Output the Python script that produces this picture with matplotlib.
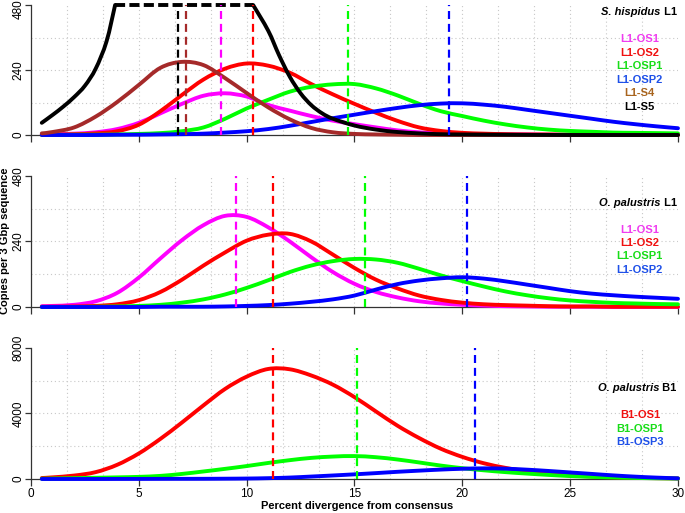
import matplotlib
matplotlib.use("Agg")
import matplotlib.pyplot as plt
import matplotlib.transforms as mtransforms
from matplotlib.path import Path
from matplotlib.patches import PathPatch
import numpy as np

plt.rcParams['font.family'] = ['Liberation Sans', 'DejaVu Sans']

# percent divergence sampled along x
x_pct = [0.5, 1, 2, 3, 4, 5, 6, 7, 8, 9, 10, 11, 12, 13, 14, 15,
         16, 17, 18, 19, 20, 21, 22, 23, 24, 25, 26, 27, 28, 29, 30]

# -- S. hispidus L1 --
sh_os1 = [2, 3, 5, 10, 22, 45, 80, 115, 145, 154, 142, 111, 90, 70, 53, 40,
          28, 17, 10, 6, 4, 3, 2, 2, 1, 1, 1, 1, 1, 1, 1]
sh_os2 = [1, 1, 3, 6, 14, 38, 88, 148, 205, 245, 264, 256, 230, 188, 150, 115,
          82, 52, 28, 15, 8, 5, 3, 2, 2, 1, 1, 1, 1, 1, 1]
sh_osp1 = [0, 0, 1, 1, 2, 4, 7, 14, 28, 60, 98, 130, 160, 178, 187, 188,
           172, 146, 115, 88, 70, 53, 39, 28, 20, 15, 12, 9, 8, 7, 6]
sh_osp2 = [0, 0, 0, 0, 1, 1, 2, 3, 5, 9, 14, 22, 34, 48, 62, 75,
           88, 100, 110, 116, 117, 112, 104, 93, 82, 71, 60, 49, 40, 32, 25]
sh_s4 = [6, 11, 28, 68, 122, 185, 248, 270, 258, 210, 155, 102, 58, 26, 10, 4,
         2, 1, 0, 0, 0, 0, 0, 0, 0, 0, 0, 0, 0, 0, 0]
# L1-S5 runs off the top of the panel between 3.9 and 10.3
s5_x = [0.5, 1, 1.5, 2, 2.5, 3, 3.5, 3.9, 10.3, 11, 11.5, 12, 12.5, 13, 13.5,
        14, 15, 16, 17, 18, 19, 20, 22, 25, 30]
s5_y = [45, 74, 105, 140, 182, 245, 345, 480, 480, 385, 295, 215, 154, 110, 80,
        60, 35, 20, 11, 6, 3, 2, 1, 0, 0]
sh_modes = [8.8, 10.3, 14.7, 19.4, 7.2, 6.8]

# -- O. palustris L1 --
op_os1 = [3, 4, 8, 21, 52, 108, 178, 245, 300, 334, 330, 292, 240, 182, 128, 85,
          55, 35, 21, 13, 8, 5, 3, 2, 1, 1, 1, 0, 0, 0, 0]
op_os2 = [1, 1, 2, 4, 10, 25, 55, 100, 152, 200, 243, 265, 268, 240, 192, 143,
          100, 68, 42, 26, 16, 10, 7, 5, 3, 2, 2, 1, 1, 1, 1]
op_osp1 = [0, 0, 0, 1, 2, 4, 8, 16, 28, 46, 70, 98, 128, 152, 168, 176,
           174, 162, 140, 116, 95, 75, 57, 43, 32, 24, 19, 15, 13, 11, 10]
op_osp2 = [0, 0, 0, 0, 0, 0, 1, 1, 1, 2, 4, 7, 12, 19, 28, 42,
           64, 84, 97, 105, 109, 104, 94, 82, 70, 58, 49, 43, 38, 34, 30]
op_modes = [9.5, 11.2, 15.5, 20.2]

# -- O. palustris B1 --
b1_os1 = [60, 100, 210, 420, 870, 1560, 2450, 3450, 4500, 5500, 6250, 6720, 6700, 6320,
          5760, 5000, 4120, 3250, 2500, 1850, 1350, 960, 680, 470, 320, 220, 150, 100, 70, 50, 35]
b1_osp1 = [20, 30, 50, 75, 100, 130, 190, 310, 460, 620, 790, 980, 1150, 1290, 1370, 1400,
           1330, 1190, 1010, 820, 660, 530, 420, 330, 250, 180, 130, 95, 65, 45, 30]
b1_osp3 = [0, 0, 0, 0, 3, 5, 8, 10, 12, 18, 28, 50, 88, 150, 215, 285,
           360, 440, 510, 575, 625, 650, 630, 570, 490, 400, 310, 220, 145, 85, 40]
b1_modes = [11.2, 15.1, 20.6]

MAG, RED, GRN, BLU, BRN, BLK = '#FF00FF', '#FF0000', '#00FF00', '#0000FF', '#A52A2A', '#000000'
txt_col = {MAG: '#F03CF0', RED: '#F01010', GRN: '#18DD18', BLU: '#1E50E8', BRN: '#A8641E', BLK: '#000000'}

LW = 2.8
fig = plt.figure(figsize=(6.85, 5.13), dpi=100)
ax1 = fig.add_axes([0.04526, 0.73684, 0.9445, 0.25341])
ax2 = fig.add_axes([0.04526, 0.40156, 0.9445, 0.25536])
ax3 = fig.add_axes([0.04526, 0.06628, 0.9445, 0.25536])


def setup(ax, ymax, yticks, show_x):
    ax.set_xlim(0, 30)
    ax.set_ylim(0, ymax)
    for g in np.arange(5 / 3, 29.9, 5 / 3):
        ax.axvline(g, color='#c8c8c8', ls=(0, (1, 2.5)), lw=0.8, zorder=0)
    for g in np.linspace(0, ymax, 5)[1:-1]:
        ax.axhline(g, color='#c8c8c8', ls=(0, (1, 2.5)), lw=0.8, zorder=0)
    for s in ['top', 'right']:
        ax.spines[s].set_visible(False)
    for s in ['left', 'bottom']:
        ax.spines[s].set_color('#333333')
        ax.spines[s].set_linewidth(0.9)
    ax.set_xticks(range(0, 31, 5))
    ax.set_yticks(yticks)
    ax.tick_params(direction='out', length=5, width=0.9, color='#333333', labelsize=8.5, pad=1.5)
    ax.tick_params(axis='y', length=4.5, pad=0.3)
    plt.setp(ax.get_yticklabels(), rotation=90, va='center')
    if not show_x:
        ax.set_xticklabels([])


def smooth(xs, ys):
    # Catmull-Rom through the read points, drawn as cubic bezier path
    p = np.column_stack([xs, ys]).astype(float)
    verts, codes = [p[0]], [Path.MOVETO]
    for i in range(len(p) - 1):
        p0 = p[i - 1] if i > 0 else p[i]
        p3 = p[i + 2] if i + 2 < len(p) else p[i + 1]
        verts += [p[i] + (p[i + 1] - p0) / 6, p[i + 1] - (p3 - p[i]) / 6, p[i + 1]]
        codes += [Path.CURVE4] * 3
    return Path(verts, codes)


def curve(ax, xs, ys, c):
    ax.add_patch(PathPatch(smooth(xs, ys), fill=False, edgecolor=c, lw=LW,
                           capstyle='round', joinstyle='round', clip_on=False, zorder=3))


def modes(ax, xs, cols):
    for m, c in zip(xs, cols):
        ax.axvline(m, color=c, lw=1.6, ls=(0, (3.6, 2.2)), zorder=4)


def titles(ax, species, tag, ty, names, cols, ys):
    t = ax.text(0.998, ty, ' ' + tag, transform=ax.transAxes, ha='right', va='center',
                fontsize=8, fontweight='bold')
    ax.annotate(species, xy=(0, 0.5), xycoords=t, ha='right', va='center',
                fontsize=8, fontweight='bold', fontstyle='italic')
    for n, c, y in zip(names, cols, ys):
        ax.text(0.941, y, n, color=txt_col[c], transform=ax.transAxes, ha='center', va='center',
                fontsize=8, fontweight='bold')


# top panel
setup(ax1, 480, [0, 240, 480], False)
for ys, c in [(sh_os1, MAG), (sh_os2, RED), (sh_osp1, GRN), (sh_osp2, BLU), (sh_s4, BRN)]:
    curve(ax1, x_pct, ys, c)
s5x, s5y = np.array(s5_x), np.array(s5_y)
cap = np.where(s5y >= 480)[0]
i0, i1 = cap[0], cap[-1]
curve(ax1, s5x[:i0 + 1], s5y[:i0 + 1], BLK)
curve(ax1, s5x[i1:], s5y[i1:], BLK)
ax1.plot(s5x[i0:i1 + 1], s5y[i0:i1 + 1], color=BLK, lw=LW, ls=(0, (2.6, 1.1)), clip_on=False, zorder=3)
modes(ax1, sh_modes, [MAG, RED, GRN, BLU, BRN, BLK])
titles(ax1, 'S. hispidus', 'L1', 0.946,
       ['L1-OS1', 'L1-OS2', 'L1-OSP1', 'L1-OSP2', 'L1-S4', 'L1-S5'],
       [MAG, RED, GRN, BLU, BRN, BLK], [0.738, 0.631, 0.531, 0.423, 0.323, 0.215])
# keep the top "480" inside the figure
top_lab = ax1.get_yticklabels()[-1]
top_lab.set_transform(top_lab.get_transform() + mtransforms.ScaledTranslation(0, -4 / 100, fig.dpi_scale_trans))

# middle panel
setup(ax2, 480, [0, 240, 480], False)
for ys, c in [(op_os1, MAG), (op_os2, RED), (op_osp1, GRN), (op_osp2, BLU)]:
    curve(ax2, x_pct, ys, c)
modes(ax2, op_modes, [MAG, RED, GRN, BLU])
titles(ax2, 'O. palustris', 'L1', 0.794,
       ['L1-OS1', 'L1-OS2', 'L1-OSP1', 'L1-OSP2'],
       [MAG, RED, GRN, BLU], [0.588, 0.489, 0.389, 0.282])

# bottom panel
setup(ax3, 8000, [0, 4000, 8000], True)
for ys, c in [(b1_os1, RED), (b1_osp1, GRN), (b1_osp3, BLU)]:
    curve(ax3, x_pct, ys, c)
modes(ax3, b1_modes, [RED, GRN, BLU])
titles(ax3, 'O. palustris', 'B1', 0.695,
       ['B1-OS1', 'B1-OSP1', 'B1-OSP3'],
       [RED, GRN, BLU], [0.489, 0.382, 0.282])

fig.text(5.5 / 685, 1 - 241 / 513, 'Copies per 3 Gbp sequence', rotation=90,
         ha='center', va='center', fontsize=8, fontweight='bold')
fig.text(0.521, 1 - 506 / 513, 'Percent divergence from consensus',
         ha='center', va='center', fontsize=8, fontweight='bold')

fig.savefig('out.png', dpi=100)
